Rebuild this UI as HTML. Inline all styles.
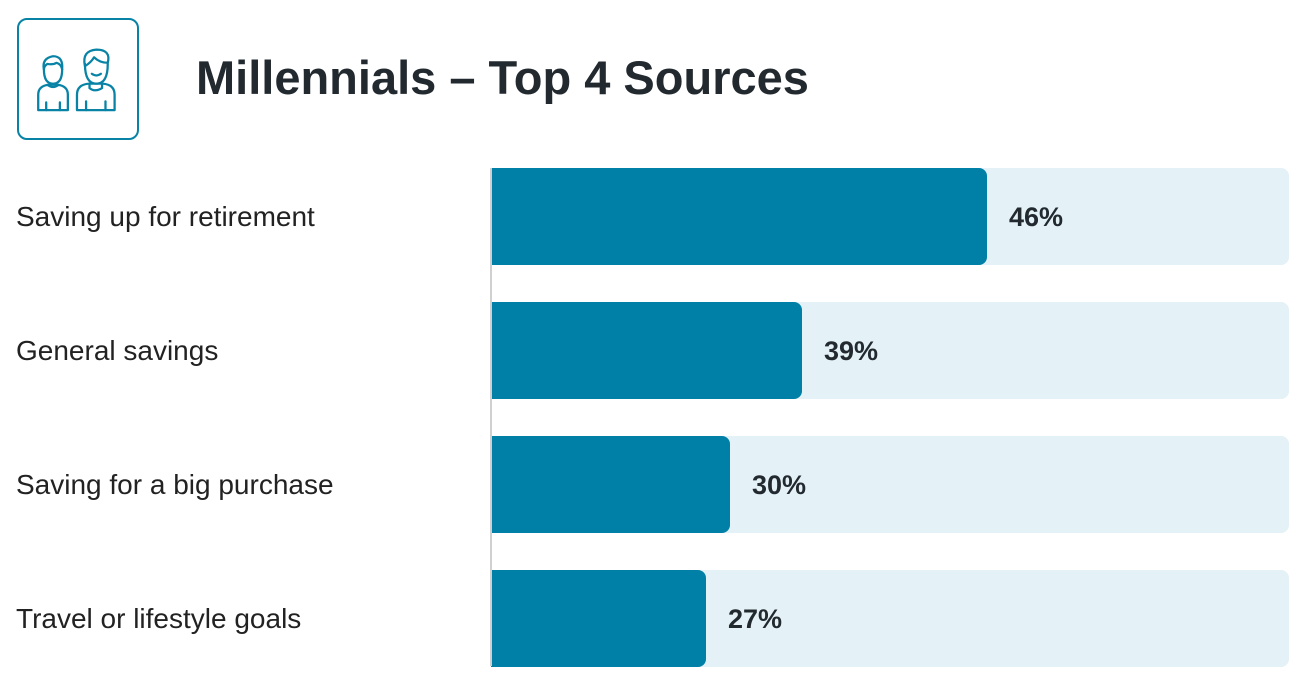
<!DOCTYPE html>
<html><head><style>
body{margin:0;width:1300px;height:677px;background:#fff;position:relative;font-family:"Liberation Sans",Arial,sans-serif;overflow:hidden}
.box{position:absolute;left:17px;top:18px;width:118px;height:118px;border:2px solid #0883a6;border-radius:10px}
h1{position:absolute;left:196px;top:51px;margin:0;font-size:47px;font-weight:bold;color:#222a30;line-height:54px}
.lab{position:absolute;left:16px;font-size:28px;color:#222;line-height:30px}
.track{position:absolute;left:491px;width:798px;height:97px;background:#e4f1f6;border-radius:0 8px 8px 0}
.bar{position:absolute;left:491px;height:97px;background:#0080a6;border-radius:0 8px 8px 0}
.val{position:absolute;font-size:27px;font-weight:bold;color:#222a30;line-height:30px}
.axis{position:absolute;left:490px;top:168px;width:2px;height:498px;background:#d0d0d0}
</style></head><body>
<div class="box"></div>
<svg style="position:absolute;left:17px;top:18px" width="122" height="122" viewBox="0 0 122 122" fill="none" stroke="#0883a6" stroke-width="2" stroke-linecap="round" stroke-linejoin="round">
<g transform="translate(-5,-8) scale(1.14,1.1)">
<path d="M23 91 V77 q0-8 9-9 h8 q9 1 9 9 V91 Z"/><path d="M30 91v-7M42 91v-7"/>
<path d="M31 68 q5 4 10 0"/>
<path d="M28 54 q0 13 8 13 q8 0 8-13 q-1-5-5-6 q-3 2-8 1 q-3 2-3 5z"/>
<path d="M28 54 q-2-10 8-12 q9 0 8 12"/>
<path d="M57 91 V77 q0-9 10-10 h13 q10 1 10 10 V91 Z"/><path d="M65 91v-8M82 91v-8"/>
<path d="M68 67 v4 q5 4 11 0 v-4"/>
<path d="M64 49 q0 18 10 18 q10 0 10-18"/>
<path d="M64 51 q-3-14 10-15 q13 0 10 12 q-7 0-12-5 q-3 5-8 8z"/>
<path d="M70 58 q4 3 8 0"/>
</g>
</svg>
<h1>Millennials – Top 4 Sources</h1>

<div class="lab" style="top:202px">Saving up for retirement</div>
<div class="lab" style="top:336px">General savings</div>
<div class="lab" style="top:470px">Saving for a big purchase</div>
<div class="lab" style="top:604px">Travel or lifestyle goals</div>

<div class="track" style="top:168px"></div><div class="bar" style="top:168px;width:496px"></div>
<div class="track" style="top:302px"></div><div class="bar" style="top:302px;width:311px"></div>
<div class="track" style="top:436px"></div><div class="bar" style="top:436px;width:239px"></div>
<div class="track" style="top:570px"></div><div class="bar" style="top:570px;width:215px"></div>
<div class="axis"></div>

<div class="val" style="left:1009px;top:202px">46%</div>
<div class="val" style="left:824px;top:336px">39%</div>
<div class="val" style="left:752px;top:470px">30%</div>
<div class="val" style="left:728px;top:604px">27%</div>
</body></html>
